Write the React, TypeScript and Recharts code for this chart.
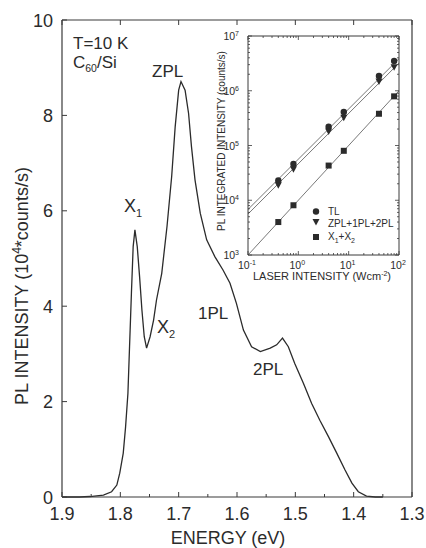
import React from 'react';
import { LineChart, Line, XAxis, YAxis, ComposedChart, Scatter } from 'recharts';

// PL spectrum: photon energy (eV) and intensity (10^4 counts/s)
const energy = [
  1.9, 1.87, 1.852, 1.829, 1.815, 1.806, 1.801, 1.795, 1.791, 1.787, 1.785, 1.781, 1.778, 1.775,
  1.771, 1.767, 1.763, 1.759, 1.755, 1.749, 1.743, 1.738, 1.729, 1.72, 1.712, 1.706, 1.7, 1.696,
  1.689, 1.683, 1.678, 1.672, 1.663, 1.652, 1.638, 1.624, 1.612, 1.601, 1.589, 1.575, 1.56, 1.543,
  1.532, 1.522, 1.512, 1.501, 1.486, 1.472, 1.458, 1.443, 1.429, 1.415, 1.403, 1.392, 1.378, 1.363, 1.35,
];
const intensity = [
  0, 0, 0.01, 0.04, 0.11, 0.25, 0.5, 0.92, 1.47, 2.17, 2.87, 4.27, 5.25, 5.6,
  5.25, 4.62, 3.92, 3.36, 3.12, 3.36, 3.71, 4.13, 4.69, 5.67, 6.72, 7.76, 8.53, 8.71,
  8.53, 8.04, 7.34, 6.65, 5.95, 5.39, 5.04, 4.76, 4.48, 4.06, 3.5, 3.15, 3.05, 3.12,
  3.19, 3.33, 3.15, 2.8, 2.38, 1.96, 1.61, 1.26, 0.92, 0.57, 0.29, 0.11, 0.02, 0, 0,
];
const energyTicks = [1.9, 1.85, 1.8, 1.75, 1.7, 1.65, 1.6, 1.55, 1.5, 1.45, 1.4, 1.35, 1.3];
const energyMajor = [1.9, 1.8, 1.7, 1.6, 1.5, 1.4, 1.3];
const intensityTicks = [0, 2, 4, 6, 8, 10];

// inset: integrated PL vs laser intensity (W/cm^2), counts/s
const laser = [0.4, 0.8, 4, 8, 40, 80];
const tlCounts = [2.3e4, 4.6e4, 2.2e5, 4.1e5, 1.86e6, 3.5e6];
const zplCounts = [1.87e4, 3.7e4, 1.8e5, 3.2e5, 1.47e6, 2.7e6];
const xCounts = [4.0e3, 8.1e3, 4.3e4, 8.0e4, 3.8e5, 7.9e5];
// fitted lines, read at the two ends of the laser axis
const fitLaser = [0.1, 100];
const tlFit = [6.8e3, 3.85e6];
const zplFit = [5.6e3, 3.2e6];
const xFit = [1.0e3, 1.0e6];
const laserTicks = [
  0.1, 0.2, 0.3, 0.4, 0.5, 0.6, 0.7, 0.8, 0.9, 1, 2, 3, 4, 5, 6, 7, 8, 9,
  10, 20, 30, 40, 50, 60, 70, 80, 90, 100,
];
const countTicks = [
  1e3, 2e3, 3e3, 4e3, 5e3, 6e3, 7e3, 8e3, 9e3, 1e4, 2e4, 3e4, 4e4, 5e4, 6e4, 7e4, 8e4, 9e4,
  1e5, 2e5, 3e5, 4e5, 5e5, 6e5, 7e5, 8e5, 9e5, 1e6, 2e6, 3e6, 4e6, 5e6, 6e6, 7e6, 8e6, 9e6, 1e7,
];

const FONT = '"Liberation Sans", Arial, Helvetica, sans-serif';
const INK = '#2b2b2b';
const AXIS = '#3a3a3a';

const spectrum = energy.map((e, i) => ({ e, i: intensity[i] }));
const zip = (xs: number[], ys: number[]) => xs.map((x, i) => ({ x, y: ys[i] }));

const isDecade = (v: number) => Math.abs(Math.log10(v) - Math.round(Math.log10(v))) < 1e-6;
const M = 8; // tickMargin used on every axis, custom ticks draw the inward line themselves

const EnergyTick = (p: any) => {
  const v = p.payload.value;
  const major = energyMajor.some((m) => Math.abs(m - v) < 1e-6);
  const ay = p.y - M;
  return (
    <g>
      <line x1={p.x} x2={p.x} y1={ay} y2={ay - (major ? 5 : 3)} stroke={AXIS} />
      {major && (
        <text x={p.x} y={ay + 23} textAnchor="middle" fontSize={18} fontFamily={FONT} fill={INK}>
          {v.toFixed(1)}
        </text>
      )}
    </g>
  );
};

const IntensityTick = (p: any) => {
  const ax = p.x + M;
  return (
    <g>
      <line x1={ax} x2={ax + 5} y1={p.y} y2={p.y} stroke={AXIS} />
      <text x={p.x - 1} y={p.y + 6.5} textAnchor="end" fontSize={18} fontFamily={FONT} fill={INK}>
        {p.payload.value}
      </text>
    </g>
  );
};

const TopTick = (p: any) => {
  const ay = p.y + M;
  return <line x1={p.x} x2={p.x} y1={ay} y2={ay + 5} stroke={AXIS} />;
};

const RightTick = (p: any) => {
  const ax = p.x - M;
  return <line x1={ax} x2={ax - 5} y1={p.y} y2={p.y} stroke={AXIS} />;
};

const LaserTick = (p: any) => {
  const v = p.payload.value;
  const major = isDecade(v);
  const ay = p.y - M;
  return (
    <g>
      <line x1={p.x} x2={p.x} y1={ay} y2={ay - (major ? 4 : 2)} stroke={AXIS} strokeWidth={0.8} />
      {major && (
        <text x={p.x - 1} y={ay + 14} textAnchor="middle" fontSize={10.5} fontFamily={FONT} fill={INK}>
          10<tspan fontSize={7} dy={-4}>{Math.round(Math.log10(v))}</tspan>
        </text>
      )}
    </g>
  );
};

const CountTick = (p: any) => {
  const v = p.payload.value;
  const major = isDecade(v);
  const ax = p.x + M;
  return (
    <g>
      <line x1={ax} x2={ax + (major ? 4 : 2)} y1={p.y} y2={p.y} stroke={AXIS} strokeWidth={0.8} />
      {major && (
        <text x={ax - 9} y={p.y + 4} textAnchor="end" fontSize={10.5} fontFamily={FONT} fill={INK}>
          10<tspan fontSize={7} dy={-4}>{Math.round(Math.log10(v))}</tspan>
        </text>
      )}
    </g>
  );
};

const LogTopTick = (p: any) => {
  const ay = p.y + M;
  return <line x1={p.x} x2={p.x} y1={ay} y2={ay + (isDecade(p.payload.value) ? 4 : 2)} stroke={AXIS} strokeWidth={0.8} />;
};

const LogRightTick = (p: any) => {
  const ax = p.x - M;
  return <line x1={ax} x2={ax - (isDecade(p.payload.value) ? 4 : 2)} y1={p.y} y2={p.y} stroke={AXIS} strokeWidth={0.8} />;
};

const Dot = (p: any) => <circle cx={p.cx} cy={p.cy} r={3.2} fill={INK} />;
const Tri = (p: any) => (
  <polygon points={`${p.cx - 3.5},${p.cy - 3} ${p.cx + 3.5},${p.cy - 3} ${p.cx},${p.cy + 3.5}`} fill={INK} />
);
const Sq = (p: any) => <rect x={p.cx - 3} y={p.cy - 3} width={6} height={6} fill={INK} />;

const Inset = () => (
  <ComposedChart width={216} height={270} margin={{ top: 9, right: 12, bottom: 11, left: 12 }}>
    <XAxis xAxisId="b" dataKey="x" type="number" scale="log" domain={[0.1, 100]} allowDataOverflow
      ticks={laserTicks} interval={0} tickSize={0} tickMargin={M} tick={<LaserTick />} height={30}
      stroke={AXIS} />
    <XAxis xAxisId="t" orientation="top" dataKey="x" type="number" scale="log" domain={[0.1, 100]} allowDataOverflow
      ticks={laserTicks} interval={0} tickSize={0} tickMargin={M} tick={<LogTopTick />} height={1}
      stroke={AXIS} />
    <YAxis yAxisId="l" dataKey="y" type="number" scale="log" domain={[1e3, 1e7]} allowDataOverflow
      ticks={countTicks} interval={0} tickSize={0} tickMargin={M} tick={<CountTick />} width={40}
      stroke={AXIS} />
    <YAxis yAxisId="r" orientation="right" dataKey="y" type="number" scale="log" domain={[1e3, 1e7]} allowDataOverflow
      ticks={countTicks} interval={0} tickSize={0} tickMargin={M} tick={<LogRightTick />} width={1}
      stroke={AXIS} />
    <Line xAxisId="b" yAxisId="l" data={zip(fitLaser, tlFit)} dataKey="y" stroke="#555" strokeWidth={0.8} dot={false} isAnimationActive={false} />
    <Line xAxisId="b" yAxisId="l" data={zip(fitLaser, zplFit)} dataKey="y" stroke="#555" strokeWidth={0.8} dot={false} isAnimationActive={false} />
    <Line xAxisId="b" yAxisId="l" data={zip(fitLaser, xFit)} dataKey="y" stroke="#555" strokeWidth={0.8} dot={false} isAnimationActive={false} />
    <Scatter xAxisId="b" yAxisId="l" data={zip(laser, tlCounts)} shape={<Dot />} isAnimationActive={false} />
    <Scatter xAxisId="b" yAxisId="l" data={zip(laser, zplCounts)} shape={<Tri />} isAnimationActive={false} />
    <Scatter xAxisId="b" yAxisId="l" data={zip(laser, xCounts)} shape={<Sq />} isAnimationActive={false} />
  </ComposedChart>
);

export default function App() {
  return (
    <div style={{ position: 'absolute', left: 0, top: 0, width: 426, height: 548, background: '#fff' }}>
      <LineChart width={426} height={548} data={spectrum} margin={{ top: 19, right: 13, bottom: 21, left: 22 }}>
        <XAxis xAxisId="b" dataKey="e" type="number" domain={[1.3, 1.9]} reversed ticks={energyTicks}
          interval={0} tickSize={0} tickMargin={M} tick={<EnergyTick />} height={30} stroke={AXIS} strokeWidth={1.2} />
        <XAxis xAxisId="t" orientation="top" dataKey="e" type="number" domain={[1.3, 1.9]} reversed ticks={energyMajor}
          interval={0} tickSize={0} tickMargin={M} tick={<TopTick />} height={1} stroke={AXIS} strokeWidth={1.2} />
        <YAxis yAxisId="l" type="number" domain={[0, 10]} ticks={intensityTicks} interval={0} tickSize={0}
          tickMargin={M} tick={<IntensityTick />} width={40} stroke={AXIS} strokeWidth={1.2} />
        <YAxis yAxisId="r" orientation="right" type="number" domain={[0, 10]} ticks={intensityTicks} interval={0}
          tickSize={0} tickMargin={M} tick={<RightTick />} width={1} stroke={AXIS} strokeWidth={1.2} />
        <Line xAxisId="b" yAxisId="l" dataKey="i" type="linear" stroke={INK} strokeWidth={1.3} dot={false}
          isAnimationActive={false} />
      </LineChart>

      <div style={{ position: 'absolute', left: 196, top: 26 }}>
        <Inset />
      </div>

      <svg width={426} height={548} style={{ position: 'absolute', left: 0, top: 0, pointerEvents: 'none' }}
        fontFamily={FONT} fill={INK}>
        <text x={73} y={49} fontSize={17}>T=10 K</text>
        <text x={73} y={68} fontSize={17}>C<tspan fontSize={10.5} dy={4}>60</tspan><tspan dy={-4}>/Si</tspan></text>
        <text x={152} y={77} fontSize={17}>ZPL</text>
        <text x={124} y={212} fontSize={18}>X<tspan fontSize={11} dy={5}>1</tspan></text>
        <text x={157} y={333} fontSize={18}>X<tspan fontSize={11} dy={5}>2</tspan></text>
        <text x={198} y={319} fontSize={17}>1PL</text>
        <text x={253} y={375} fontSize={17}>2PL</text>

        <text x={28} y={286} fontSize={18} textAnchor="middle" transform="rotate(-90 28 286)">
          PL INTENSITY (10<tspan fontSize={12} dy={-7}>4</tspan><tspan dy={7}>*counts/s)</tspan>
        </text>
        <text x={228} y={544} fontSize={18} textAnchor="middle">ENERGY (eV)</text>

        <text x={225} y={141} fontSize={10} textAnchor="middle" transform="rotate(-90 225 141)">
          PL INTEGRATED INTENSITY (counts/s)
        </text>
        <text x={322} y={280} fontSize={11} textAnchor="middle">
          LASER INTENSITY (Wcm<tspan fontSize={7} dy={-4}>-2</tspan><tspan dy={4}>)</tspan>
        </text>

        <circle cx={316} cy={211.5} r={3.2} />
        <polygon points="312.5,219 319.5,219 316,225.5" />
        <rect x={313} y={234} width={6} height={6} />
        <text x={328} y={215} fontSize={10}>TL</text>
        <text x={328} y={227} fontSize={10}>ZPL+1PL+2PL</text>
        <text x={328} y={240} fontSize={10}>X<tspan fontSize={7} dy={3}>1</tspan><tspan dy={-3}>+X</tspan><tspan fontSize={7} dy={3}>2</tspan></text>
      </svg>
    </div>
  );
}
